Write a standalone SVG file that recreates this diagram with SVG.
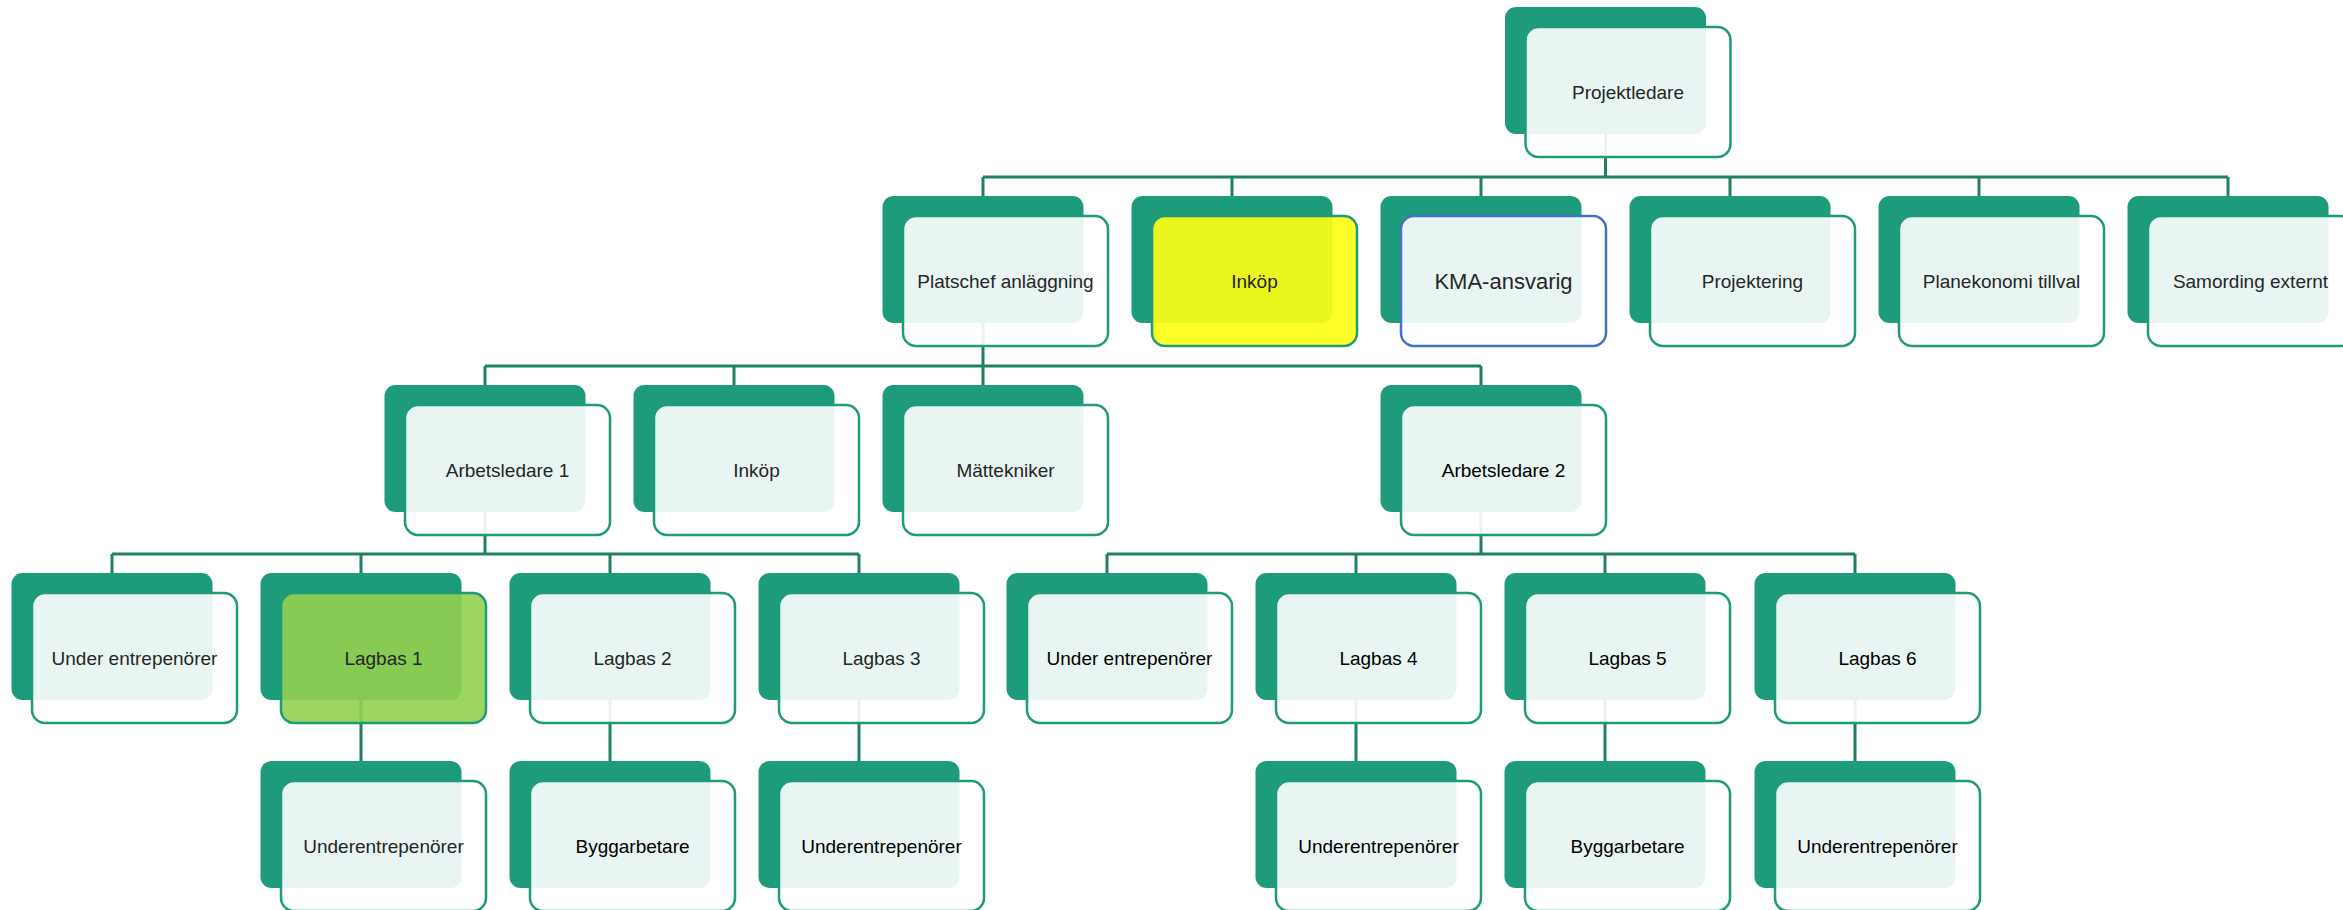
<svg xmlns="http://www.w3.org/2000/svg" width="2343" height="910" viewBox="0 0 2343 910">
<style>
.bg{fill:#ffffff}
.back{fill:#1E9B7A}
.front{fill:#ffffff;fill-opacity:0.9;stroke:#1E9B7A;stroke-width:2.5}
.yellow{fill:#FFFF12;fill-opacity:0.9}
.lime{fill:#92D050;fill-opacity:0.9}
.blue{stroke:#4472C4}
.conn{fill:none;stroke:#1F8064;stroke-width:3}
.lbl{font-family:"Liberation Sans",Arial,sans-serif;font-size:19px;fill:#262626;text-anchor:middle}
.dk{fill:#000000}
.big{font-size:22px}
</style>
<defs>
<rect id="b" x="-100.5" y="0" width="201" height="127" rx="11"/>
</defs>
<rect class="bg" x="0" y="0" width="2343" height="910"/>
<g id="connectors">
<path class="conn" d="M1605.5 134V177M983 177H2228M983 177V196M1232 177V196M1481 177V196M1730 177V196M1979 177V196M2228 177V196"/>
<path class="conn" d="M983 323V366M485 366H1481M485 366V385M734 366V385M983 366V385M1481 366V385"/>
<path class="conn" d="M485 512V554M112 554H859M112 554V573M361 554V573M610 554V573M859 554V573"/>
<path class="conn" d="M1481 512V554M1107 554H1855M1107 554V573M1356 554V573M1605 554V573M1855 554V573"/>
<path class="conn" d="M361 700V761M610 700V761M859 700V761M1356 700V761M1605 700V761M1855 700V761"/>
</g>
<g id="n-projektledare"><rect class="back" x="1505" y="7" width="201" height="127" rx="11"/><rect class="front" x="1525.5" y="27" width="205" height="130" rx="13"/><text class="lbl" x="1628" y="99">Projektledare</text></g>

<g id="n-platschef"><rect class="back" x="882.5" y="196" width="201" height="127" rx="11"/><rect class="front" x="903" y="216" width="205" height="130" rx="13"/><text class="lbl" x="1005.5" y="288">Platschef anläggning</text></g>
<g id="n-inkop1"><rect class="back" x="1131.5" y="196" width="201" height="127" rx="11"/><rect class="front yellow" x="1152" y="216" width="205" height="130" rx="13"/><text class="lbl" x="1254.5" y="288">Inköp</text></g>
<g id="n-kma"><rect class="back" x="1380.5" y="196" width="201" height="127" rx="11"/><rect class="front blue" x="1401" y="216" width="205" height="130" rx="13"/><text class="lbl big" x="1503.5" y="289">KMA-ansvarig</text></g>
<g id="n-projektering"><rect class="back" x="1629.5" y="196" width="201" height="127" rx="11"/><rect class="front" x="1650" y="216" width="205" height="130" rx="13"/><text class="lbl" x="1752.5" y="288">Projektering</text></g>
<g id="n-planekonomi"><rect class="back" x="1878.5" y="196" width="201" height="127" rx="11"/><rect class="front" x="1899" y="216" width="205" height="130" rx="13"/><text class="lbl" x="2001.5" y="288">Planekonomi tillval</text></g>
<g id="n-samording"><rect class="back" x="2127.5" y="196" width="201" height="127" rx="11"/><rect class="front" x="2148" y="216" width="205" height="130" rx="13"/><text class="lbl" x="2250.5" y="288">Samording externt</text></g>

<g id="n-arbetsledare1"><rect class="back" x="384.5" y="385" width="201" height="127" rx="11"/><rect class="front" x="405" y="405" width="205" height="130" rx="13"/><text class="lbl" x="507.5" y="477">Arbetsledare 1</text></g>
<g id="n-inkop2"><rect class="back" x="633.5" y="385" width="201" height="127" rx="11"/><rect class="front" x="654" y="405" width="205" height="130" rx="13"/><text class="lbl" x="756.5" y="477">Inköp</text></g>
<g id="n-mattekniker"><rect class="back" x="882.5" y="385" width="201" height="127" rx="11"/><rect class="front" x="903" y="405" width="205" height="130" rx="13"/><text class="lbl" x="1005.5" y="477">Mättekniker</text></g>
<g id="n-arbetsledare2"><rect class="back" x="1380.5" y="385" width="201" height="127" rx="11"/><rect class="front" x="1401" y="405" width="205" height="130" rx="13"/><text class="lbl dk" x="1503.5" y="477">Arbetsledare 2</text></g>

<g id="n-ue1"><rect class="back" x="11.5" y="573" width="201" height="127" rx="11"/><rect class="front" x="32" y="593" width="205" height="130" rx="13"/><text class="lbl" x="134.5" y="665">Under entrepenörer</text></g>
<g id="n-lagbas1"><rect class="back" x="260.5" y="573" width="201" height="127" rx="11"/><rect class="front lime" x="281" y="593" width="205" height="130" rx="13"/><text class="lbl" x="383.5" y="665">Lagbas 1</text></g>
<g id="n-lagbas2"><rect class="back" x="509.5" y="573" width="201" height="127" rx="11"/><rect class="front" x="530" y="593" width="205" height="130" rx="13"/><text class="lbl" x="632.5" y="665">Lagbas 2</text></g>
<g id="n-lagbas3"><rect class="back" x="758.5" y="573" width="201" height="127" rx="11"/><rect class="front" x="779" y="593" width="205" height="130" rx="13"/><text class="lbl" x="881.5" y="665">Lagbas 3</text></g>
<g id="n-ue2"><rect class="back" x="1006.5" y="573" width="201" height="127" rx="11"/><rect class="front" x="1027" y="593" width="205" height="130" rx="13"/><text class="lbl dk" x="1129.5" y="665">Under entrepenörer</text></g>
<g id="n-lagbas4"><rect class="back" x="1255.5" y="573" width="201" height="127" rx="11"/><rect class="front" x="1276" y="593" width="205" height="130" rx="13"/><text class="lbl dk" x="1378.5" y="665">Lagbas 4</text></g>
<g id="n-lagbas5"><rect class="back" x="1504.5" y="573" width="201" height="127" rx="11"/><rect class="front" x="1525" y="593" width="205" height="130" rx="13"/><text class="lbl dk" x="1627.5" y="665">Lagbas 5</text></g>
<g id="n-lagbas6"><rect class="back" x="1754.5" y="573" width="201" height="127" rx="11"/><rect class="front" x="1775" y="593" width="205" height="130" rx="13"/><text class="lbl dk" x="1877.5" y="665">Lagbas 6</text></g>

<g id="n-uep1"><rect class="back" x="260.5" y="761" width="201" height="127" rx="11"/><rect class="front" x="281" y="781" width="205" height="130" rx="13"/><text class="lbl" x="383.5" y="853">Underentrepenörer</text></g>
<g id="n-bygg1"><rect class="back" x="509.5" y="761" width="201" height="127" rx="11"/><rect class="front" x="530" y="781" width="205" height="130" rx="13"/><text class="lbl dk" x="632.5" y="853">Byggarbetare</text></g>
<g id="n-uep2"><rect class="back" x="758.5" y="761" width="201" height="127" rx="11"/><rect class="front" x="779" y="781" width="205" height="130" rx="13"/><text class="lbl dk" x="881.5" y="853">Underentrepenörer</text></g>
<g id="n-uep3"><rect class="back" x="1255.5" y="761" width="201" height="127" rx="11"/><rect class="front" x="1276" y="781" width="205" height="130" rx="13"/><text class="lbl dk" x="1378.5" y="853">Underentrepenörer</text></g>
<g id="n-bygg2"><rect class="back" x="1504.5" y="761" width="201" height="127" rx="11"/><rect class="front" x="1525" y="781" width="205" height="130" rx="13"/><text class="lbl dk" x="1627.5" y="853">Byggarbetare</text></g>
<g id="n-uep4"><rect class="back" x="1754.5" y="761" width="201" height="127" rx="11"/><rect class="front" x="1775" y="781" width="205" height="130" rx="13"/><text class="lbl dk" x="1877.5" y="853">Underentrepenörer</text></g>
</svg>
